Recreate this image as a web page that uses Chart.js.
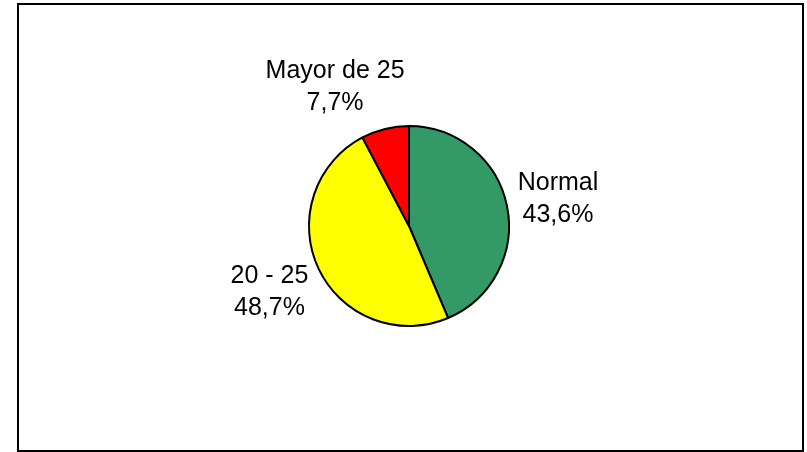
<!DOCTYPE html>
<html>
<head>
<meta charset="utf-8">
<script src="https://cdn.jsdelivr.net/npm/chart.js@4/dist/chart.umd.min.js"></script>
<style>
    html, body { margin: 0; padding: 0; background: #ffffff; }
    #wrap { position: relative; width: 807px; height: 452px; }
    #frame {
        position: absolute; left: 17px; top: 3px;
        width: 783px; height: 445px;
        border: 2px solid #000;
    }
    #pieChart { position: absolute; left: 0; top: 0; }
</style>
</head>
<body>
<div id="wrap">
    <div id="frame"></div>
    <canvas id="pieChart" width="807" height="452"></canvas>
</div>
<script>
const categories = ['Normal', '20 - 25', 'Mayor de 25'];
const percentages = [43.6, 48.7, 7.7];
const sliceColors = ['#339966', '#FFFF00', '#FF0000'];

// outside labels: name + percentage, placed along each slice's mid angle
const outsideLabels = {
    id: 'outsideLabels',
    afterDatasetsDraw(chart, args, opts) {
        const ctx = chart.ctx;
        const meta = chart.getDatasetMeta(0);
        ctx.save();
        ctx.font = '25px "Liberation Sans", Arial, sans-serif';
        ctx.fillStyle = '#000';
        ctx.textAlign = 'center';
        ctx.textBaseline = 'alphabetic';
        meta.data.forEach((arc, i) => {
            const p = arc.getProps(['x', 'y', 'startAngle', 'endAngle', 'outerRadius'], true);
            const mid = (p.startAngle + p.endAngle) / 2;
            const r = p.outerRadius + opts.gap;
            const nudge = opts.nudge[i] || [0, 0];
            const cx = p.x + Math.cos(mid) * r + nudge[0];
            const cy = p.y + Math.sin(mid) * r + nudge[1];
            const pct = percentages[i].toFixed(1).replace('.', ',') + '%';
            ctx.fillText(categories[i], cx, cy - 8);
            ctx.fillText(pct, cx, cy + 24);
        });
        ctx.restore();
    }
};

function createChart() {
    const ctx = document.getElementById('pieChart').getContext('2d');
    new Chart(ctx, {
        type: 'pie',
        data: {
            labels: categories,
            datasets: [{
                data: percentages,
                backgroundColor: sliceColors,
                borderColor: '#000',
                borderWidth: 2
            }]
        },
        options: {
            responsive: false,
            animation: false,
            radius: 100,
            layout: { padding: { left: 11, right: 0, top: 0, bottom: 0 } },
            plugins: {
                legend: { display: false },
                tooltip: { enabled: false },
                outsideLabels: {
                    gap: 50,
                    nudge: [[2, 2], [-4, 1], [-38, 6]]
                }
            }
        },
        plugins: [outsideLabels]
    });
}

createChart();
</script>
</body>
</html>
